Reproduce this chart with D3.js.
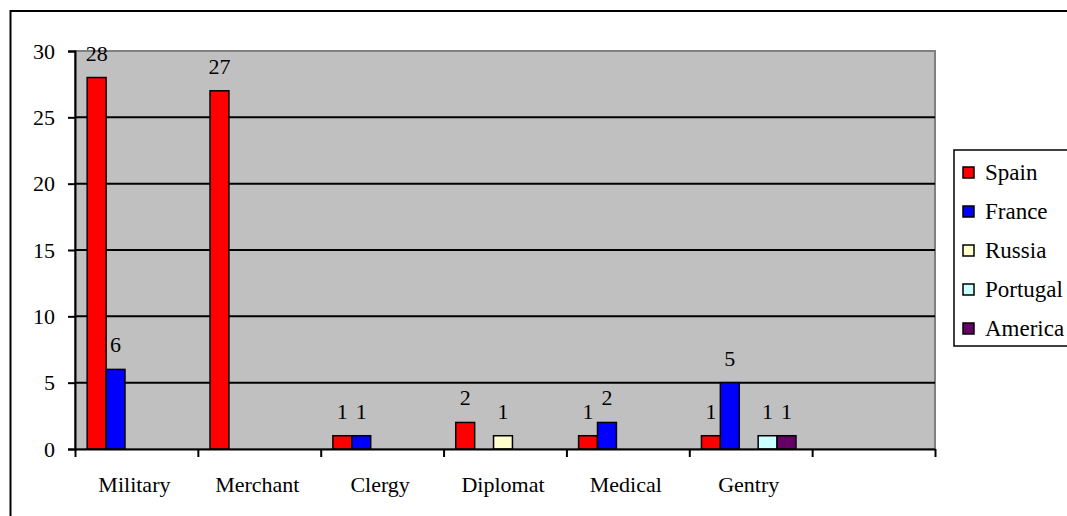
<!DOCTYPE html>
<html>
<head>
<meta charset="utf-8">
<script src="https://cdnjs.cloudflare.com/ajax/libs/d3/7.8.5/d3.min.js"></script>
<style>
  body { margin: 0; background: #fff; }
</style>
</head>
<body>
<script>
(function() {
  var width = 1067;
  var height = 516;
  var font = "'Liberation Serif', 'Times New Roman', Times, serif";

  // data, the last category is empty
  var categories = ["Military", "Merchant", "Clergy", "Diplomat", "Medical", "Gentry", ""];
  var seriesNames = ["Spain", "France", "Russia", "Portugal", "America"];
  var spain    = [28, 27, 1, 2, 1, 1, null];
  var france   = [6, null, 1, null, 2, 5, null];
  var russia   = [null, null, null, 1, null, null, null];
  var portugal = [null, null, null, null, null, 1, null];
  var america  = [null, null, null, null, null, 1, null];
  var colors = ["#ff0000", "#0000ff", "#ffffcc", "#ccffff", "#660066"];
  var yTicks = [0, 5, 10, 15, 20, 25, 30];

  var seriesValues = [spain, france, russia, portugal, america];

  var svg = d3.select("body")
    .append("svg")
    .attr("width", width)
    .attr("height", height);

  // outer chart border (runs off the right / bottom edge)
  svg.append("rect")
    .attr("x", 10.5)
    .attr("y", 11)
    .attr("width", 1100)
    .attr("height", 560)
    .attr("fill", "#fff")
    .attr("stroke", "#000")
    .attr("stroke-width", 2);

  var x = d3.scaleBand()
    .domain(d3.range(categories.length))
    .range([75, 935]);

  var xs = d3.scaleBand()
    .domain(seriesNames)
    .range([-2, x.bandwidth() - 2])
    .paddingOuter(0.75);

  var y = d3.scaleLinear()
    .domain([0, 30])
    .range([449, 51]);

  // plot area
  svg.append("rect")
    .attr("x", 75)
    .attr("y", y(30))
    .attr("width", 935 - 75)
    .attr("height", y(0) - y(30))
    .attr("fill", "#c0c0c0")
    .attr("stroke", "#808080")
    .attr("stroke-width", 2);

  svg.selectAll(".grid")
    .data(yTicks.filter(function(d) { return d > 0 && d < 30; }))
    .enter().append("line")
    .attr("class", "grid")
    .attr("x1", 75)
    .attr("x2", 935)
    .attr("y1", function(d) { return y(d); })
    .attr("y2", function(d) { return y(d); })
    .attr("stroke", "#000")
    .attr("stroke-width", 2);

  // bars
  var bars = [];
  seriesValues.forEach(function(vals, s) {
    vals.forEach(function(v, c) {
      if (v != null) bars.push({ s: s, c: c, v: v });
    });
  });

  svg.selectAll(".bar")
    .data(bars)
    .enter().append("rect")
    .attr("class", "bar")
    .attr("x", function(d) { return x(d.c) + xs(seriesNames[d.s]); })
    .attr("y", function(d) { return y(d.v); })
    .attr("width", xs.bandwidth())
    .attr("height", function(d) { return y(0) - y(d.v); })
    .attr("fill", function(d) { return colors[d.s]; })
    .attr("stroke", "#000")
    .attr("stroke-width", 1.5);

  svg.selectAll(".lbl")
    .data(bars)
    .enter().append("text")
    .attr("class", "lbl")
    .attr("x", function(d) { return x(d.c) + xs(seriesNames[d.s]) + xs.bandwidth() / 2; })
    .attr("y", function(d) { return y(d.v) - 17; })
    .attr("text-anchor", "middle")
    .style("font-family", font)
    .style("font-size", "22px")
    .text(function(d) { return d.v; });

  // axes
  var yAxis = d3.axisLeft(y)
    .tickValues(yTicks)
    .tickSize(7)
    .tickPadding(13);

  svg.append("g")
    .attr("transform", "translate(75,0)")
    .call(yAxis)
    .call(function(g) {
      g.select(".domain").attr("stroke-width", 2);
      g.selectAll(".tick line").attr("stroke-width", 2);
      g.selectAll(".tick text")
        .style("font-family", font)
        .style("font-size", "22px");
    });

  var xEdges = d3.scaleLinear().domain([0, categories.length]).range([75, 935]);
  var xAxis = d3.axisBottom(xEdges)
    .tickValues(d3.range(categories.length + 1))
    .tickSize(8)
    .tickFormat("")
    .tickSizeOuter(0);

  svg.append("g")
    .attr("transform", "translate(0,449)")
    .call(xAxis)
    .call(function(g) {
      g.select(".domain").attr("stroke-width", 2);
      g.selectAll(".tick line").attr("stroke-width", 2);
    });

  svg.selectAll(".cat")
    .data(categories)
    .enter().append("text")
    .attr("class", "cat")
    .attr("x", function(d, i) { return x(i) + x.bandwidth() / 2 - 2; })
    .attr("y", 492)
    .attr("text-anchor", "middle")
    .style("font-family", font)
    .style("font-size", "22px")
    .text(function(d) { return d; });

  // legend
  var legend = svg.append("g");
  legend.append("rect")
    .attr("x", 954)
    .attr("y", 150)
    .attr("width", 140)
    .attr("height", 196)
    .attr("fill", "#fff")
    .attr("stroke", "#000")
    .attr("stroke-width", 1.5);

  var items = legend.selectAll(".item")
    .data(seriesNames)
    .enter().append("g")
    .attr("class", "item")
    .attr("transform", function(d, i) { return "translate(963," + (167 + i * 39) + ")"; });

  items.append("rect")
    .attr("width", 11)
    .attr("height", 11)
    .attr("fill", function(d, i) { return colors[i]; })
    .attr("stroke", "#000")
    .attr("stroke-width", 1.5);

  items.append("text")
    .attr("x", 22)
    .attr("y", 13)
    .style("font-family", font)
    .style("font-size", "23px")
    .text(function(d) { return d; });

})();
</script>
</body>
</html>
